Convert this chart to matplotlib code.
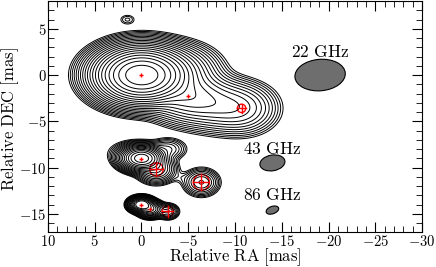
import numpy as np
import matplotlib
matplotlib.use("Agg")
import matplotlib.pyplot as plt
from matplotlib.patches import Ellipse, Circle

plt.rcParams["font.family"] = "serif"
plt.rcParams["font.serif"] = ["cmr10", "DejaVu Serif"]
plt.rcParams["mathtext.fontset"] = "cm"
plt.rcParams["axes.formatter.use_mathtext"] = True
plt.rcParams["axes.unicode_minus"] = True

# Gaussian model components per map: RA, DEC offset (mas), peak, sigma_x, sigma_y
ra_22 = [0.0, -4.0, -5.0, -8.0, -10.7, 1.5]
dec_22 = [0.0, 0.5, -2.3, -3.2, -3.6, 6.0]
flux_22 = [1.0, 0.03, 0.05, 0.025, 0.02, 0.0022]
sx_22 = [2.1, 2.0, 2.0, 2.0, 1.8, 0.55]
sy_22 = [1.3, 1.3, 1.3, 1.3, 1.3, 0.36]

ra_43 = [0.0, -1.6, -2.8, 1.2, -4.2, -6.4]
dec_43 = [-9.0, -10.2, -8.0, -8.4, -11.1, -11.6]
flux_43 = [1.0, 0.1, 0.025, 0.012, 0.003, 0.05]
sx_43 = [1.0, 0.95, 1.0, 1.3, 0.6, 0.9]
sy_43 = [0.59, 0.68, 0.6, 0.7, 0.4, 0.7]

ra_86 = [0.0, -0.95, -2.8]
dec_86 = [-14.0, -14.5, -14.75]
flux_86 = [1.0, 0.3, 0.05]
sx_86 = [0.55, 0.6, 0.55]
sy_86 = [0.35, 0.4, 0.4]

# contour levels: lowest level (fraction of peak), number of sqrt(2) steps
low_22, n_22 = 1.0e-3, 20
low_43, n_43 = 3.0e-3, 17
low_86, n_86 = 3.0e-3, 16

# model-fit markers
core_ra = [0.0, -5.0, 0.0, 0.0, -0.95]
core_dec = [0.0, -2.3, -9.05, -14.0, -14.5]
knot_ra = [-10.7, -1.6, -6.4, -2.8]
knot_dec = [-3.6, -10.2, -11.6, -14.75]
knot_r = [0.45, 0.72, 0.86, 0.6]

# restoring beams
beam_labels = ["22 GHz", "43 GHz", "86 GHz"]
beam_ra = [-19.1, -14.0, -14.0]
beam_dec = [0.0, -9.5, -14.6]
beam_w = [5.4, 2.7, 1.4]
beam_h = [3.4, 1.7, 0.8]
beam_pa = [-5, -10, -20]
label_dec = [2.5, -8.0, -13.0]

x = np.linspace(10, -30, 900)
y = np.linspace(-17, 8, 600)
X, Y = np.meshgrid(x, y)


def model(ra, dec, flux, sx, sy):
    img = np.zeros_like(X)
    for r, d, f, a, b in zip(ra, dec, flux, sx, sy):
        img += f * np.exp(-((X - r) ** 2 / (2 * a ** 2) + (Y - d) ** 2 / (2 * b ** 2)))
    return img


def tex(s):
    return r"$\mathrm{" + s.replace(" ", r"\ ") + "}$"


fig = plt.figure(figsize=(4.36, 2.67), dpi=100)
ax = fig.add_axes([0.110, 0.130, 0.858, 0.866])

maps = [
    (model(ra_22, dec_22, flux_22, sx_22, sy_22), low_22, n_22),
    (model(ra_43, dec_43, flux_43, sx_43, sy_43), low_43, n_43),
    (model(ra_86, dec_86, flux_86, sx_86, sy_86), low_86, n_86),
]
for img, low, n in maps:
    levels = low * np.sqrt(2) ** np.arange(n)
    ax.contour(X, Y, img, levels=levels, colors="black", linewidths=0.7)

ax.plot(core_ra, core_dec, "+", color="red", ms=3.5, mew=1.0)
for r, d, rad in zip(knot_ra, knot_dec, knot_r):
    ax.add_patch(Circle((r, d), rad, fill=False, ec="red", lw=1.0))
    ax.plot([r - rad, r + rad], [d, d], color="red", lw=1.0)
    ax.plot([r, r], [d - rad, d + rad], color="red", lw=1.0)

for i in range(len(beam_labels)):
    ax.add_patch(Ellipse((beam_ra[i], beam_dec[i]), beam_w[i], beam_h[i], angle=beam_pa[i],
                         fc="0.43", ec="black", lw=0.8))
    ax.text(beam_ra[i], label_dec[i], tex(beam_labels[i]), ha="center", va="center", fontsize=12.5)

ax.set_xlim(10, -30)
ax.set_ylim(-17, 8)
ax.set_xticks([10, 5, 0, -5, -10, -15, -20, -25, -30])
ax.set_yticks([5, 0, -5, -10, -15])
ax.set_xticks(np.arange(-30, 11, 1), minor=True)
ax.set_yticks(np.arange(-17, 9, 1), minor=True)
ax.tick_params(which="both", direction="in", top=True, right=True, labelsize=10.5, pad=1)
ax.tick_params(which="major", length=7, width=0.8)
ax.tick_params(which="minor", length=4, width=0.6)
ax.set_xlabel(tex("Relative RA [mas]"), fontsize=12, va="baseline")
ax.set_ylabel(tex("Relative DEC [mas]"), fontsize=12, va="center")
ax.xaxis.set_label_coords(0.5, -0.123)
ax.yaxis.set_label_coords(-0.102, 0.49)

fig.savefig("out.png", dpi=100)
